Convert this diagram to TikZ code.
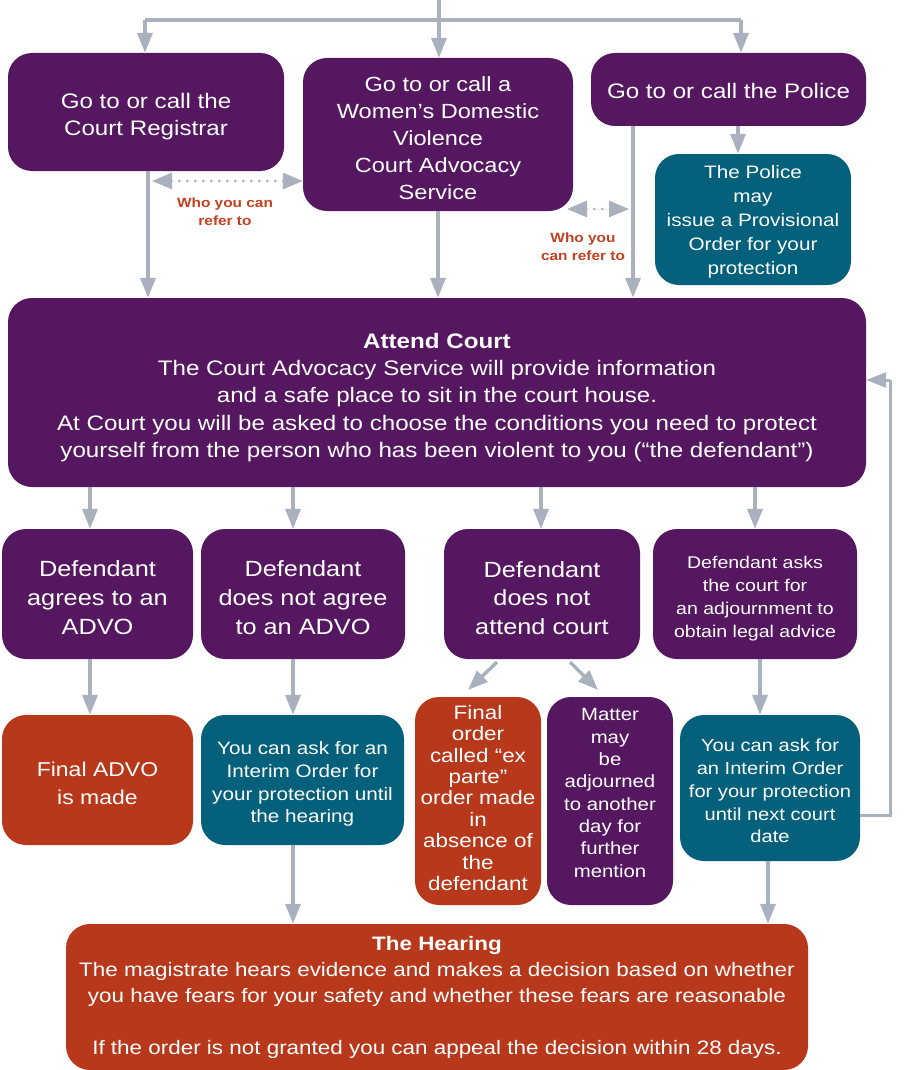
\documentclass[tikz,border=0pt]{standalone}
\usepackage{fontspec}
\setmainfont{Liberation Sans}[FakeStretch=1.15]
\usetikzlibrary{arrows.meta}
\definecolor{purp}{HTML}{55175F}
\definecolor{teal}{HTML}{04607B}
\definecolor{rust}{HTML}{B8381B}
\definecolor{redlbl}{HTML}{C4401F}
\definecolor{conn}{HTML}{A9B1BE}
\tikzset{
  box/.style={rounded corners=24pt, inner sep=0pt},
  pbox/.style={box, fill=purp},
  tbox/.style={box, fill=teal},
  rbox/.style={box, fill=rust},
  txt/.style={inner sep=0pt, align=center, text=white},
  line/.style={draw=conn, line width=3.5pt},
  arr/.style={draw=conn, line width=3.5pt, -{Triangle[length=20pt,width=15pt]}, fill=conn},
  darr/.style={draw=conn, line width=3pt, line cap=round, dash pattern=on 0pt off 8pt,
    {Triangle[length=20pt,width=16pt]}-{Triangle[length=20pt,width=16pt]}, fill=conn},
  lbl/.style={align=center, text=redlbl, font=\fontsize{13.4}{18}\selectfont\bfseries, inner sep=0pt},
}
\begin{document}
\begin{tikzpicture}[x=1pt,y=-1pt]
\useasboundingbox (0,0) rectangle (907,1070);

% boxes
\node[pbox, minimum width=276pt, minimum height=118pt] (reg) at (146,112) {};
\node[txt, font=\fontsize{21}{27}\selectfont] (reg-t) at ([yshift=-5pt]reg.center) {Go to or call the\\Court Registrar};

\node[pbox, minimum width=270pt, minimum height=153pt] (wdv) at (438,134.5) {};
\node[txt, font=\fontsize{20.5}{27}\selectfont] (wdv-t) at ([yshift=-3.5pt]wdv.center) {Go to or call a\\Women's Domestic\\Violence\\Court Advocacy\\Service};

\node[pbox, minimum width=275pt, minimum height=73pt] (pol) at (728.5,89.5) {};
\node[txt, font=\fontsize{21}{27}\selectfont] (pol-t) at ([yshift=-1.5pt]pol.center) {Go to or call the Police};

\node[tbox, minimum width=196pt, minimum height=131pt] (prov) at (753,219.5) {};
\node[txt, font=\fontsize{18}{24}\selectfont] (prov-t) at ([yshift=-2.5pt]prov.center) {The Police\\may\\issue a Provisional\\Order for your\\protection};

\node[pbox, minimum width=858pt, minimum height=189pt] (court) at (437,392.5) {};
\node[txt, font=\fontsize{21}{27.2}\selectfont] (court-t) at ([yshift=-5pt]court.center) {\textbf{Attend Court}\\The Court Advocacy Service will provide information\\and a safe place to sit in the court house.\\At Court you will be asked to choose the conditions you need to protect\\yourself from the person who has been violent to you (“the defendant”)};

\node[pbox, minimum width=191pt, minimum height=130pt] (agr) at (97.5,594) {};
\node[txt, font=\fontsize{22}{29}\selectfont] (agr-t) at ([yshift=-4pt]agr.center) {Defendant\\agrees to an\\ADVO};
\node[pbox, minimum width=204pt, minimum height=130pt] (nagr) at (303,594) {};
\node[txt, font=\fontsize{22}{29}\selectfont] (nagr-t) at ([yshift=-4pt]nagr.center) {Defendant\\does not agree\\to an ADVO};
\node[pbox, minimum width=196pt, minimum height=130pt] (natt) at (542,594) {};
\node[txt, font=\fontsize{22}{28.5}\selectfont] (natt-t) at ([yshift=-4pt]natt.center) {Defendant\\does not\\attend court};
\node[pbox, minimum width=204pt, minimum height=130pt] (adj) at (755,594) {};
\node[txt, font=\fontsize{17}{23}\selectfont] (adj-t) at ([yshift=-5pt]adj.center) {Defendant asks\\the court for\\an adjournment to\\obtain legal advice};

\node[rbox, minimum width=191pt, minimum height=130pt] (fin) at (97.5,780) {};
\node[txt, font=\fontsize{20}{28}\selectfont] (fin-t) at ([yshift=-3pt]fin.center) {Final ADVO\\is made};
\node[tbox, minimum width=203pt, minimum height=130pt] (int1) at (302.5,780) {};
\node[txt, font=\fontsize{18}{22.8}\selectfont] (int1-t) at ([yshift=-4pt]int1.center) {You can ask for an\\Interim Order for\\your protection until\\the hearing};
\node[rbox, minimum width=126pt, minimum height=208pt] (exp) at (478,801) {};
\node[txt, font=\fontsize{19.5}{21.4}\selectfont] (exp-t) at ([yshift=3pt]exp.center) {Final\\order\\called “ex\\parte”\\order made\\in\\absence of\\the\\defendant};
\node[pbox, minimum width=126pt, minimum height=208pt] (mat) at (610,801) {};
\node[txt, font=\fontsize{17.7}{22.3}\selectfont] (mat-t) at ([yshift=8pt]mat.center) {Matter\\may\\be\\adjourned\\to another\\day for\\further\\mention};
\node[tbox, minimum width=180pt, minimum height=146pt] (int2) at (770,788) {};
\node[txt, font=\fontsize{17.5}{22.8}\selectfont] (int2-t) at ([yshift=-3pt]int2.center) {You can ask for\\an Interim Order\\for your protection\\until next court\\date};

\node[rbox, minimum width=742pt, minimum height=146pt] (hear) at (437,997) {};
\node[txt, font=\fontsize{19.5}{26}\selectfont] (hear-t) at (hear.center) {\textbf{The Hearing}\\The magistrate hears evidence and makes a decision based on whether\\you have fears for your safety and whether these fears are reasonable\\[26pt]If the order is not granted you can appeal the decision within 28 days.};

% labels
\node[lbl] (l1) at (225,212) {Who you can\\refer to};
\node[lbl] (l2) at (583,247) {Who you\\can refer to};

% top connector
\coordinate (top) at (439,0);
\coordinate (tj) at (439,20);
\coordinate (tl) at (145,20);
\coordinate (tr) at (741,20);
\draw[line] (top) -- (tj);
\draw[line] (tl) -- (tr);
\draw[arr] (tl) -- (tl |- reg.north);
\draw[arr] (tj) -- (tj |- wdv.north);
\draw[arr] (tr) -- (tr |- pol.north);

% first row down
\coordinate (rx) at (148,0);
\draw[arr] (rx |- reg.south) -- (rx |- court.north);
\draw[arr] (wdv.south) -- (wdv.south |- court.north);
\coordinate (px) at (633,0);
\draw[arr] (px |- pol.south) -- (px |- court.north);
\coordinate (ppx) at (738,0);
\draw[arr] (ppx |- pol.south) -- (ppx |- prov.north);

% dotted
\coordinate (d1) at (152,181);
\draw[darr] (d1) -- (d1 -| wdv.west);
\coordinate (d2a) at (567,209);
\coordinate (d2b) at (629,209);
\draw[darr] (d2a) -- (d2b);

% court down
\foreach \x/\n in {90/agr,293/nagr,541/natt,755/adj}{
  \draw[arr] (\x,0 |- court.south) -- (\x,0 |- \n.north);
}
\coordinate (c1) at (90,0);
\draw[arr] (c1 |- agr.south) -- (c1 |- fin.north);
\coordinate (c2) at (293,0);
\draw[arr] (c2 |- nagr.south) -- (c2 |- int1.north);
\coordinate (c4) at (760,0);
\draw[arr] (c4 |- adj.south) -- (c4 |- int2.north);

% diagonals
\coordinate (da) at (497,662);
\coordinate (dat) at (468,690);
\coordinate (db) at (570,662);
\coordinate (dbt) at (598,690);
\draw[arr] (da) -- (dat);
\draw[arr] (db) -- (dbt);

% loop
\coordinate (lp1) at (860,815);
\coordinate (lp2) at (890,815);
\coordinate (lp3) at (890,380);
\draw[line, line width=3pt] (lp1) -- (lp2) -- (lp3);
\draw[arr, line width=3pt] (lp3) -- (court.east |- lp3);

% to hearing
\draw[arr] (c2 |- int1.south) -- (c2 |- hear.north);
\coordinate (c5) at (768,0);
\draw[arr] (c5 |- int2.south) -- (c5 |- hear.north);
\end{tikzpicture}
\end{document}
